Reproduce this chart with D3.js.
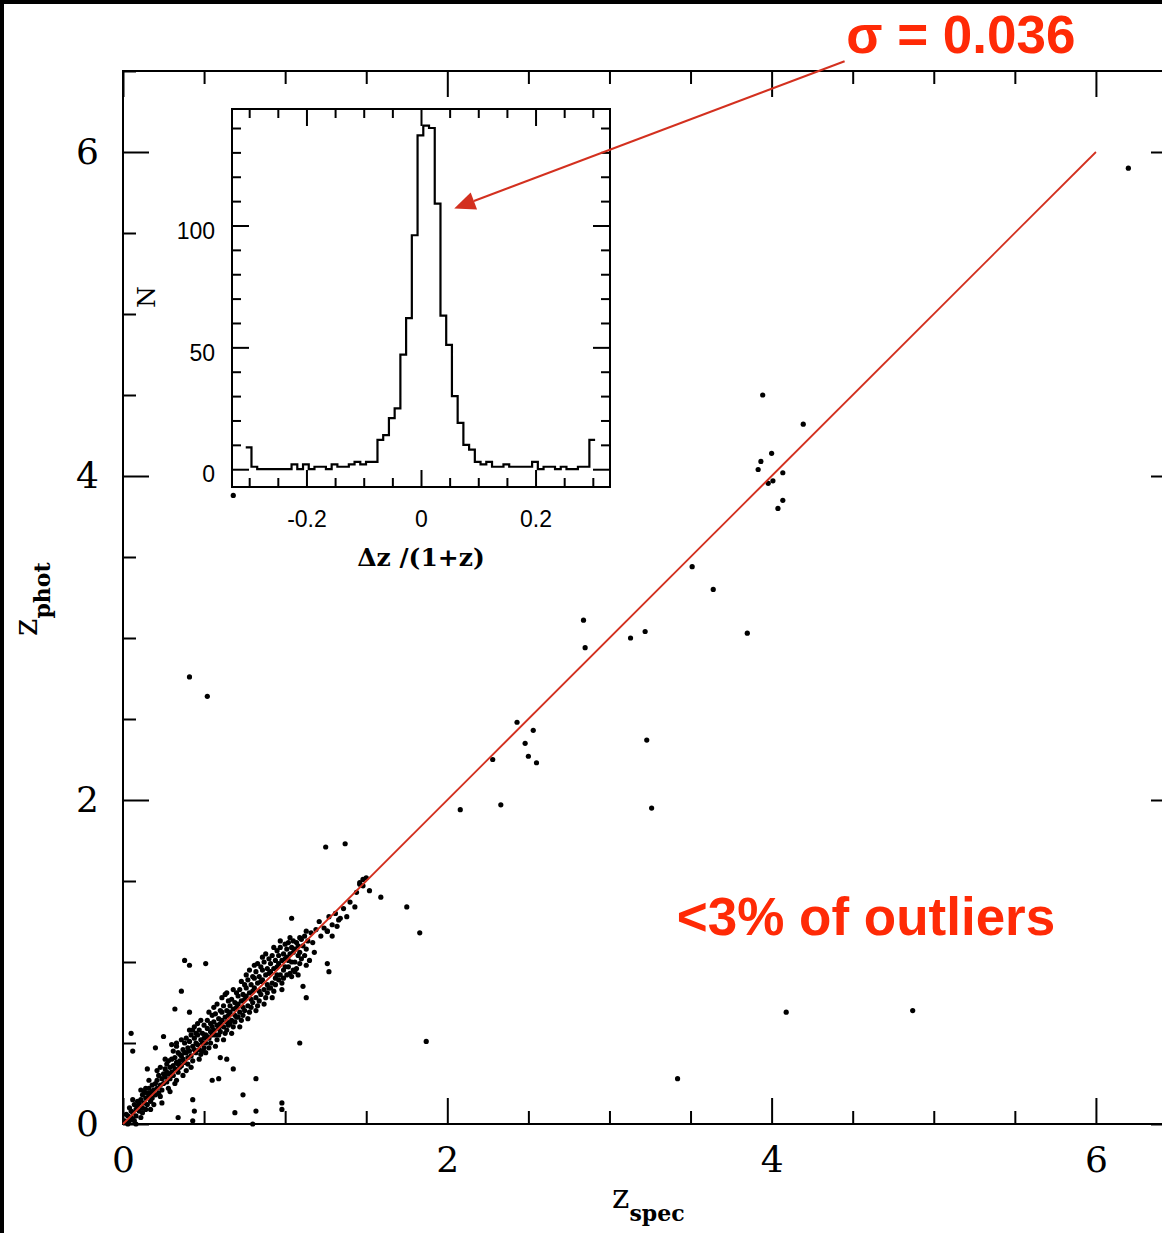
<!DOCTYPE html>
<html>
<head>
<meta charset="utf-8">
<script src="https://cdn.jsdelivr.net/npm/d3@7"></script>
<style>
  body { margin: 0; background: #fff; }
  svg { display: block; }
</style>
</head>
<body>
<div id="chart"></div>
<script>
// dense core of the z_phot vs z_spec relation: [zspec, zphot]
const clusterPoints = [
  [0.01,0.02],[0.02,0.01],[0.03,0.05],[0.04,0.02],[0.02,0.06],[0.05,0.04],[0.03,0.00],[0.05,0.08],[0.04,0.10],[0.06,0.03],
  [0.06,0.07],[0.07,0.12],[0.08,0.05],[0.08,0.09],[0.09,0.14],[0.07,0.02],[0.10,0.08],[0.09,0.11],[0.06,0.15],[0.10,0.13],[0.08,0.00],[0.11,0.04],
  [0.11,0.15],[0.12,0.10],[0.12,0.18],[0.13,0.13],[0.14,0.09],[0.13,0.20],[0.14,0.16],[0.15,0.12],[0.11,0.21],[0.15,0.19],[0.12,0.07],[0.14,0.22],
  [0.16,0.17],[0.16,0.22],[0.17,0.14],[0.17,0.19],[0.18,0.24],[0.18,0.16],[0.19,0.21],[0.19,0.12],[0.20,0.18],[0.16,0.27],[0.18,0.20],[0.20,0.25],[0.17,0.09],
  [0.21,0.22],[0.21,0.27],[0.22,0.19],[0.22,0.30],[0.23,0.24],[0.23,0.17],[0.24,0.28],[0.24,0.21],[0.25,0.31],[0.25,0.25],[0.21,0.33],[0.23,0.35],[0.24,0.13],
  [0.26,0.29],[0.26,0.34],[0.27,0.26],[0.27,0.37],[0.28,0.31],[0.28,0.22],[0.29,0.35],[0.29,0.28],[0.30,0.32],[0.30,0.40],[0.26,0.40],[0.28,0.39],[0.29,0.20],[0.27,0.32],
  [0.31,0.36],[0.31,0.30],[0.32,0.41],[0.32,0.34],[0.33,0.38],[0.33,0.27],[0.34,0.44],[0.34,0.32],[0.35,0.39],[0.35,0.35],[0.31,0.45],[0.33,0.48],[0.34,0.37],[0.32,0.25],[0.35,0.43],
  [0.36,0.42],[0.36,0.36],[0.37,0.46],[0.37,0.40],[0.38,0.38],[0.38,0.50],[0.39,0.44],[0.39,0.33],[0.40,0.47],[0.40,0.41],[0.36,0.52],[0.38,0.44],[0.37,0.30],[0.39,0.53],[0.40,0.37],
  [0.41,0.45],[0.41,0.51],[0.42,0.42],[0.42,0.55],[0.43,0.48],[0.43,0.39],[0.44,0.53],[0.44,0.46],[0.45,0.50],[0.45,0.44],[0.41,0.58],[0.43,0.58],[0.42,0.35],[0.44,0.60],[0.45,0.56],
  [0.46,0.49],[0.46,0.55],[0.47,0.46],[0.47,0.58],[0.48,0.52],[0.48,0.43],[0.49,0.56],[0.49,0.50],[0.50,0.53],[0.50,0.61],[0.46,0.62],[0.48,0.64],[0.47,0.40],[0.49,0.45],[0.50,0.47],
  [0.51,0.55],[0.51,0.50],[0.52,0.59],[0.52,0.64],[0.53,0.53],[0.53,0.47],[0.54,0.57],[0.54,0.62],[0.55,0.55],[0.55,0.67],[0.51,0.44],[0.53,0.69],[0.54,0.50],[0.52,0.54],[0.55,0.60],
  [0.56,0.58],[0.56,0.63],[0.57,0.55],[0.57,0.68],[0.58,0.61],[0.58,0.52],[0.59,0.65],[0.59,0.59],[0.60,0.62],[0.60,0.70],[0.56,0.72],[0.58,0.74],[0.57,0.48],[0.59,0.55],[0.60,0.57],
  [0.61,0.64],[0.61,0.69],[0.62,0.60],[0.62,0.73],[0.63,0.66],[0.63,0.56],[0.64,0.70],[0.64,0.63],[0.65,0.67],[0.65,0.76],[0.61,0.78],[0.63,0.80],[0.62,0.52],[0.64,0.58],[0.65,0.61],
  [0.66,0.69],[0.66,0.73],[0.67,0.64],[0.67,0.77],[0.68,0.71],[0.68,0.60],[0.69,0.75],[0.69,0.67],[0.70,0.72],[0.70,0.81],[0.66,0.62],[0.68,0.83],[0.67,0.56],[0.69,0.63],[0.70,0.66],
  [0.71,0.74],[0.71,0.79],[0.72,0.69],[0.72,0.83],[0.73,0.76],[0.73,0.64],[0.74,0.80],[0.74,0.72],[0.75,0.77],[0.75,0.86],[0.71,0.66],[0.73,0.88],[0.72,0.60],[0.74,0.67],[0.75,0.70],
  [0.76,0.79],[0.76,0.84],[0.77,0.73],[0.77,0.89],[0.78,0.81],[0.78,0.69],[0.79,0.86],[0.79,0.77],[0.80,0.82],[0.80,0.91],[0.76,0.92],[0.78,0.95],[0.77,0.65],[0.79,0.72],[0.80,0.75],
  [0.81,0.84],[0.81,0.90],[0.82,0.78],[0.82,0.94],[0.83,0.87],[0.83,0.73],[0.84,0.91],[0.84,0.82],[0.85,0.88],[0.85,0.97],[0.81,0.98],[0.83,0.99],[0.82,0.70],[0.84,0.76],[0.85,0.80],
  [0.86,0.89],[0.86,0.95],[0.87,0.83],[0.87,1.00],[0.88,0.92],[0.88,0.78],[0.89,0.96],[0.89,0.86],[0.90,0.93],[0.90,1.02],[0.86,1.03],[0.88,1.05],[0.87,0.74],[0.89,0.81],[0.90,0.84],
  [0.91,0.94],[0.91,0.99],[0.92,0.87],[0.92,1.04],[0.93,0.96],[0.93,0.82],[0.94,1.01],[0.94,0.90],[0.95,0.97],[0.95,1.07],[0.91,0.84],[0.93,1.09],[0.92,0.78],[0.94,0.86],[0.95,0.92],
  [0.96,0.99],[0.96,1.04],[0.97,0.92],[0.97,1.09],[0.98,1.01],[0.98,0.87],[0.99,1.05],[0.99,0.95],[1.00,1.02],[1.00,1.11],[0.96,0.89],[0.98,0.83],[0.97,1.13],[0.99,0.90],[1.00,0.97],
  [1.01,1.03],[1.01,1.08],[1.02,0.97],[1.02,1.12],[1.03,1.05],[1.03,0.93],[1.04,1.09],[1.04,1.00],[1.05,1.06],[1.05,0.95],[1.01,0.92],[1.03,1.15],[1.02,1.01],[1.04,0.91],[1.05,1.13],
  [1.06,1.08],[1.06,1.00],[1.07,1.12],[1.07,0.96],[1.08,1.04],[1.08,1.10],[1.09,0.99],[1.09,1.06],[1.10,1.02],[1.10,1.14],[1.06,0.94],[1.08,0.92],[1.09,1.15],
  [1.11,1.10],[1.12,1.04],[1.12,1.16],[1.13,1.08],[1.14,1.13],[1.15,1.01],[1.16,1.18],[1.17,1.12],[1.18,1.06],[1.19,1.20],[1.13,0.98],
  [1.21,1.25],[1.22,1.16],[1.24,1.21],[1.26,1.19],[1.27,1.28],[1.29,1.23],[1.31,1.30],[1.33,1.26],[1.36,1.33],[1.38,1.28],[1.40,1.37],[1.43,1.34],[1.46,1.49],[1.48,1.47],[1.50,1.52]
];

// scattered sources and catastrophic outliers
const outlierPoints = [
  [6.20,5.90],[3.945,4.50],[4.195,4.32],[4.00,4.14],[3.934,4.09],[3.917,4.04],[4.069,4.02],[3.979,3.955],[4.008,3.97],[4.069,3.85],[4.039,3.80],
  [3.51,3.44],[3.64,3.30],[2.84,3.11],[2.85,2.94],[3.13,3.00],[3.22,3.04],[3.85,3.03],
  [0.41,2.76],[0.52,2.64],
  [2.43,2.48],[2.48,2.35],[2.53,2.43],[2.50,2.27],[2.55,2.23],[2.28,2.25],[3.23,2.37],
  [2.33,1.97],[2.08,1.94],[3.26,1.95],
  [1.25,1.71],[1.37,1.73],[1.48,1.51],[1.46,1.48],[1.44,1.43],[1.52,1.44],[1.59,1.40],[1.75,1.34],[1.83,1.18],
  [1.87,0.51],[1.09,0.50],[3.42,0.28],[4.09,0.69],[4.87,0.70],
  [0.68,3.88],
  [1.04,1.27],[1.34,1.27],[1.32,1.22],[1.29,1.16],[1.26,1.19],[1.26,0.99],[1.27,0.94],[1.13,1.19],[1.11,0.85],[1.13,0.78],
  [0.38,1.01],[0.41,0.98],[0.51,0.99],[0.36,0.82],[0.32,0.71],[0.41,0.69],[0.64,0.81],[0.05,0.56],[0.06,0.45],[0.25,0.54],
  [0.20,0.47],[0.30,0.49],[0.33,0.50],[0.15,0.34],
  [0.82,0.28],[0.74,0.18],[0.69,0.07],[0.82,0.08],[0.98,0.13],[0.98,0.09],[0.68,0.34],[0.60,0.41],[0.64,0.40],[0.55,0.27],
  [0.59,0.28],[0.43,0.15],[0.44,0.08],[0.43,0.02],[0.34,0.04],[0.80,0.00]
];

// inset histogram of dz/(1+z), bins of 0.01 starting at -0.306
const histCounts = [9,1,0,0,0,0,0,0,2,0, 2,0,1,1,0,2,1,1,2,3, 2,3,3,12,14,21,25,47,62,96,
  137,141,140,109,63,51,30,19,10,8, 3,2,3,1,1,2,1,1,1,1, 3,0,1,1,0,1,0,0,1,1,12];
const histStart = -0.306;
const histBinWidth = 0.01;

const mainTicks = [0, 2, 4, 6];
const mainMinorStep = 0.5;
const insetXTicks = [-0.2, 0, 0.2];
const insetXMinorStep = 0.05;
const insetYTicks = [0, 50, 100];
const insetYMinorStep = 10;

const sigmaLabel = "\u03c3 = 0.036";
const outlierLabel = "<3% of outliers";

const width = 1162, height = 1233;
const serif = "'DejaVu Serif', serif";
const sans = "'Liberation Sans', Arial, sans-serif";
const red = "#ff2a06";
const lineRed = "#d3301f";

const svg = d3.select("#chart").append("svg")
    .attr("width", width)
    .attr("height", height);

svg.append("rect").attr("width", width).attr("height", height).attr("fill", "#fff");
// black edge of the slide along top and left
svg.append("rect").attr("width", width).attr("height", 4).attr("fill", "#000");
svg.append("rect").attr("width", 4).attr("height", height).attr("fill", "#000");

// main scales
const x = d3.scaleLinear().domain([0, 6.5]).range([123, 1177]);
const y = d3.scaleLinear().domain([0, 6.5]).range([1124, 71]);

const mainMinor = d3.range(0, 6.5 + 1e-9, mainMinorStep).filter(v => !mainTicks.includes(v));

function styleAxis(g, fontFamily, fontSize) {
    g.select(".domain").remove();
    g.selectAll(".tick line").attr("stroke", "#000").attr("stroke-width", 2);
    g.selectAll(".tick text")
        .attr("fill", "#000")
        .style("font-family", fontFamily)
        .style("font-size", fontSize + "px");
}

// bottom axis with labels
svg.append("g")
    .attr("transform", `translate(0,${y(0)})`)
    .call(d3.axisBottom(x).tickValues(mainTicks).tickSize(-26).tickPadding(22).tickFormat(d3.format("d")))
    .call(g => styleAxis(g, serif, 36));
svg.append("g")
    .attr("transform", `translate(0,${y(0)})`)
    .call(d3.axisBottom(x).tickValues(mainMinor).tickSize(-13).tickFormat(""))
    .call(g => styleAxis(g, serif, 36));

// left axis with labels
svg.append("g")
    .attr("transform", `translate(${x(0)},0)`)
    .call(d3.axisLeft(y).tickValues(mainTicks).tickSize(-26).tickPadding(24).tickFormat(d3.format("d")))
    .call(g => styleAxis(g, serif, 36));
svg.append("g")
    .attr("transform", `translate(${x(0)},0)`)
    .call(d3.axisLeft(y).tickValues(mainMinor).tickSize(-13).tickFormat(""))
    .call(g => styleAxis(g, serif, 36));

// top and right, ticks only
[[mainTicks, -26], [mainMinor, -13]].forEach(([vals, len]) => {
    svg.append("g")
        .attr("transform", `translate(0,${y(6.5)})`)
        .call(d3.axisTop(x).tickValues(vals).tickSize(len).tickFormat(""))
        .call(g => styleAxis(g, serif, 36));
    svg.append("g")
        .attr("transform", `translate(${x(6.5)},0)`)
        .call(d3.axisRight(y).tickValues(vals).tickSize(len).tickFormat(""))
        .call(g => styleAxis(g, serif, 36));
});

// frame
svg.append("rect")
    .attr("x", x(0)).attr("y", y(6.5))
    .attr("width", x(6.5) - x(0)).attr("height", y(0) - y(6.5))
    .attr("fill", "none").attr("stroke", "#000").attr("stroke-width", 2);

// scatter points
svg.append("g").selectAll("circle")
    .data(clusterPoints.concat(outlierPoints))
    .enter()
    .append("circle")
    .attr("cx", d => x(d[0]))
    .attr("cy", d => y(d[1]))
    .attr("r", 2.6)
    .attr("fill", "#000");

// one-to-one line
svg.append("line")
    .attr("x1", x(0)).attr("y1", y(0))
    .attr("x2", x(6)).attr("y2", y(6))
    .attr("stroke", lineRed).attr("stroke-width", 1.8);

// axis titles
const xTitle = svg.append("text")
    .attr("x", 612).attr("y", 1208)
    .style("font-family", serif).attr("fill", "#000");
xTitle.append("tspan").style("font-size", "33px").text("z");
xTitle.append("tspan").attr("dy", 13).style("font-size", "22px").style("font-weight", "bold").text("spec");

const yTitle = svg.append("text")
    .attr("transform", "translate(37,636) rotate(-90)")
    .style("font-family", serif).attr("fill", "#000");
yTitle.append("tspan").style("font-size", "33px").text("z");
yTitle.append("tspan").attr("dy", 13).style("font-size", "22px").style("font-weight", "bold").text("phot");

// ---------- inset histogram ----------
const xi = d3.scaleLinear().domain([-0.33, 0.33]).range([232, 610]);
const yi = d3.scaleLinear().domain([-7.3, 147.8]).range([487, 109]);

svg.append("rect")
    .attr("x", xi(-0.33)).attr("y", yi(147.8))
    .attr("width", xi(0.33) - xi(-0.33)).attr("height", yi(-7.3) - yi(147.8))
    .attr("fill", "#fff");

const insetXMinor = d3.range(-0.3, 0.3 + 1e-9, insetXMinorStep)
    .map(v => Math.round(v * 100) / 100)
    .filter(v => !insetXTicks.includes(v));
const insetYMinor = d3.range(0, 140 + 1e-9, insetYMinorStep).filter(v => !insetYTicks.includes(v));
const plainFmt = d => d === 0 ? "0" : String(d);

svg.append("g")
    .attr("transform", `translate(0,${yi(-7.3)})`)
    .call(d3.axisBottom(xi).tickValues(insetXTicks).tickSize(-17).tickPadding(24).tickFormat(plainFmt))
    .call(g => styleAxis(g, sans, 23));
svg.append("g")
    .attr("transform", `translate(${xi(-0.33)},0)`)
    .call(d3.axisLeft(yi).tickValues(insetYTicks).tickSize(-17).tickPadding(17).tickFormat(plainFmt))
    .call(g => styleAxis(g, sans, 23))
    .call(g => g.selectAll(".tick text").attr("dy", "0.55em"));

[[insetXTicks, -17], [insetXMinor, -9]].forEach(([vals, len]) => {
    svg.append("g")
        .attr("transform", `translate(0,${yi(147.8)})`)
        .call(d3.axisTop(xi).tickValues(vals).tickSize(len).tickFormat(""))
        .call(g => styleAxis(g, sans, 23));
});
svg.append("g")
    .attr("transform", `translate(0,${yi(-7.3)})`)
    .call(d3.axisBottom(xi).tickValues(insetXMinor).tickSize(-9).tickFormat(""))
    .call(g => styleAxis(g, sans, 23));
[[insetYTicks, -17], [insetYMinor, -9]].forEach(([vals, len]) => {
    svg.append("g")
        .attr("transform", `translate(${xi(0.33)},0)`)
        .call(d3.axisRight(yi).tickValues(vals).tickSize(len).tickFormat(""))
        .call(g => styleAxis(g, sans, 23));
});
svg.append("g")
    .attr("transform", `translate(${xi(-0.33)},0)`)
    .call(d3.axisLeft(yi).tickValues(insetYMinor).tickSize(-9).tickFormat(""))
    .call(g => styleAxis(g, sans, 23));

svg.append("rect")
    .attr("x", xi(-0.33)).attr("y", yi(147.8))
    .attr("width", xi(0.33) - xi(-0.33)).attr("height", yi(-7.3) - yi(147.8))
    .attr("fill", "none").attr("stroke", "#000").attr("stroke-width", 2);

// step outline of the histogram
const histPts = histCounts.map((c, i) => [histStart + i * histBinWidth, c]);
histPts.push([histStart + histCounts.length * histBinWidth, histCounts[histCounts.length - 1]]);
const step = d3.line()
    .x(d => xi(d[0]))
    .y(d => yi(d[1]))
    .curve(d3.curveStepAfter);
svg.append("path")
    .datum(histPts)
    .attr("fill", "none")
    .attr("stroke", "#000")
    .attr("stroke-width", 2.2)
    .attr("d", step);

svg.append("text")
    .attr("transform", "translate(155,297) rotate(-90)")
    .attr("text-anchor", "middle")
    .style("font-family", serif).style("font-size", "25px")
    .text("N");

svg.append("text")
    .attr("x", xi(0)).attr("y", 566)
    .attr("text-anchor", "middle")
    .style("font-family", serif).style("font-size", "25px").style("font-weight", "bold")
    .text("\u0394z /(1+z)");

// ---------- annotations ----------
const arrowTail = [x(4.45), y(6.56)];
const arrowTip = [xi(0.058), yi(107)];
const ang = Math.atan2(arrowTip[1] - arrowTail[1], arrowTip[0] - arrowTail[0]);
const headLen = 21, headHalf = 9;
const base = [arrowTip[0] - headLen * Math.cos(ang), arrowTip[1] - headLen * Math.sin(ang)];
svg.append("line")
    .attr("x1", arrowTail[0]).attr("y1", arrowTail[1])
    .attr("x2", base[0]).attr("y2", base[1])
    .attr("stroke", lineRed).attr("stroke-width", 2);
svg.append("path")
    .attr("d", d3.line()([
        arrowTip,
        [base[0] + headHalf * Math.sin(ang), base[1] - headHalf * Math.cos(ang)],
        [base[0] - headHalf * Math.sin(ang), base[1] + headHalf * Math.cos(ang)]
    ]) + "Z")
    .attr("fill", lineRed);

svg.append("text")
    .attr("x", x(4.46)).attr("y", y(6.61))
    .attr("fill", red)
    .style("font-family", sans).style("font-size", "53px").style("font-weight", "bold")
    .text(sigmaLabel);

svg.append("text")
    .attr("x", x(3.415)).attr("y", y(1.167))
    .attr("fill", red)
    .style("font-family", sans).style("font-size", "53px").style("font-weight", "bold")
    .text(outlierLabel);
</script>
</body>
</html>
